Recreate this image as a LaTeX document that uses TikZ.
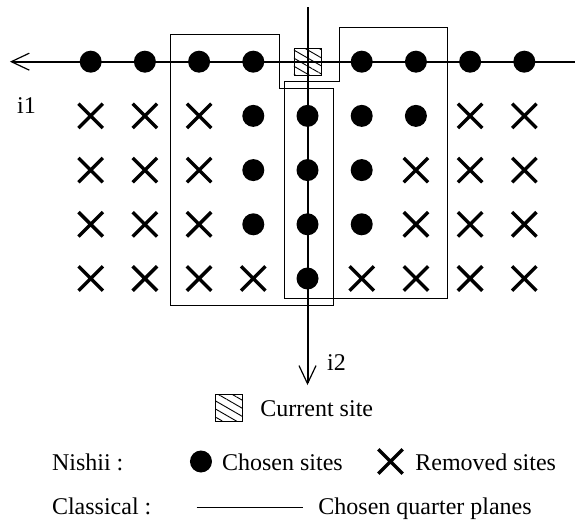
\documentclass[tikz,border=0pt]{standalone}
\usepackage{fontspec}
\setmainfont{Liberation Serif}
\usetikzlibrary{arrows.meta,patterns.meta,shapes.misc}
\tikzset{
  chosen/.style={circle,fill,inner sep=0pt,minimum size=11pt},
  removed/.style={cross out,draw,line width=1.7pt,inner sep=0pt,minimum size=10.5pt},
  current/.style={draw,line width=0.4pt,inner sep=0pt,minimum size=13.6pt,
    pattern={Lines[angle=-30,distance=3.5pt,line width=0.45pt]}},
  plane/.style={line width=0.5pt},
  axis/.style={line width=1pt,-{Straight Barb[length=9pt,width=8.5pt,line width=0.6pt]}},
  lbl/.style={inner sep=0pt,anchor=base west}
}
\begin{document}
\begin{tikzpicture}[x=27.1pt,y=-27.1pt,font=\fontsize{12}{14}\selectfont]
\useasboundingbox (-1.673,-1.138) rectangle (8.935,8.437);
\def\leftplane{(1.475,-0.5) -- (3.475,-0.5) -- (3.475,0.49) -- (4.475,0.49) -- (4.475,4.5) -- (1.475,4.5) -- cycle}
\def\rightplane{(4.585,-0.63) -- (6.585,-0.63) -- (6.585,4.365) -- (3.575,4.365) -- (3.575,0.37) -- (4.585,0.37) -- cycle}
    % quarter planes
    \draw[plane] \leftplane;
    \draw[plane] \rightplane;
    \node[current] (cur) at (4,0) {};
    % axes
    \coordinate (i1start) at (8.94,0);
    \coordinate (i1end) at (-1.49,0);
    \coordinate (i2start) at (4,-1.004);
    \coordinate (i2end) at (4,5.965);
    \draw[axis] (i1start) -- (i1end);
    \draw[axis] (i2start) -- (i2end);
    \node[lbl] (i1) at (-1.365,0.952) {i1};
    \node[lbl] (i2) at (4.354,5.688) {i2};
    % sites
    \foreach \c in {0,1,2,3,5,6,7,8}
        \node[chosen] (s-\c-0) at (\c,0) {};
    \foreach \r/\lo/\hi in {1/3/6,2/3/5,3/3/5,4/4/4}
        \foreach \c in {0,...,8} {
            \def\kind{removed}
            \ifnum\c<\lo\else\ifnum\c>\hi\else\def\kind{chosen}\fi\fi
            \node[\kind] (s-\c-\r) at (\c,\r) {};
        }
    % legend
    \node[current] (keycur) at (2.552,6.384) {};
    \node[lbl] (curtxt) at (3.124,6.549) {Current site};
    \node[lbl] (nishii) at (-0.72,7.542) {Nishii :};
    \node[chosen] (keychosen) at (2.035,7.376) {};
    \node[lbl] (chosentxt) at (2.417,7.542) {Chosen sites};
    \node[removed] (keyremoved) at (5.531,7.376) {};
    \node[lbl] (removedtxt) at (5.983,7.542) {Removed sites};
    \node[lbl] (classical) at (-0.72,8.354) {Classical :};
    \coordinate (keyA) at (1.956,8.229);
    \coordinate (keyB) at (3.908,8.229);
    \draw[plane] (keyA) -- (keyB);
    \node[lbl] (planetxt) at (4.194,8.354) {Chosen quarter planes};
\end{tikzpicture}
\end{document}
